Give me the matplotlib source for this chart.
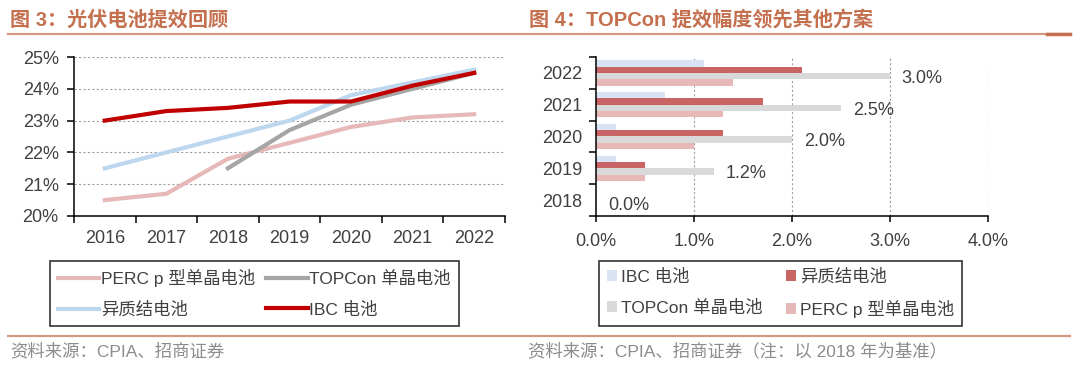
import matplotlib
matplotlib.use('Agg')
import matplotlib.pyplot as plt
from matplotlib.lines import Line2D
import numpy as np

plt.rcParams['font.family'] = ['Liberation Sans', 'Noto Sans CJK SC']

# ---- data ----
years = ['2016', '2017', '2018', '2019', '2020', '2021', '2022']
perc = [20.5, 20.7, 21.8, 22.3, 22.8, 23.1, 23.2]
topcon_years = ['2018', '2019', '2020', '2021', '2022']
topcon = [21.5, 22.7, 23.5, 24.0, 24.5]
hjt = [21.5, 22.0, 22.5, 23.0, 23.8, 24.2, 24.6]
ibc = [23.0, 23.3, 23.4, 23.6, 23.6, 24.1, 24.5]

bar_years = ['2018', '2019', '2020', '2021', '2022']
ibc_gain = [0.0, 0.2, 0.2, 0.7, 1.1]
hjt_gain = [0.0, 0.5, 1.3, 1.7, 2.1]
topcon_gain = [0.0, 1.2, 2.0, 2.5, 3.0]
perc_gain = [0.0, 0.5, 1.0, 1.3, 1.4]

title_left = '图 3：光伏电池提效回顾'
title_right = '图 4：TOPCon 提效幅度领先其他方案'
source_left = '资料来源：CPIA、招商证券'
source_right = '资料来源：CPIA、招商证券（注：以 2018 年为基准）'

W, H = 1080, 378
fig = plt.figure(figsize=(W / 100, H / 100), dpi=100)

def fx(px):
    return px / W

def fy(py):
    return 1 - py / H

head_col = '#C4704F'
line_col = '#D49A80'
tick_col = '#404040'

# ---- header / footer decorations ----
fig.add_artist(Line2D([fx(8), fx(1070)], [fy(34), fy(34)], color=line_col, lw=1.6))
fig.add_artist(Line2D([fx(1047), fx(1070)], [fy(34), fy(34)], color=head_col, lw=2.5))
fig.add_artist(Line2D([fx(8), fx(1070)], [fy(336), fy(336)], color=line_col, lw=1.6))
fig.text(fx(10), fy(20), title_left, fontsize=14.5, fontweight='bold', color=head_col, va='center')
fig.text(fx(529), fy(20), title_right, fontsize=14.5, fontweight='bold', color=head_col, va='center')
fig.text(fx(10), fy(351), source_left, fontsize=12.5, color='#8C8C8C', va='center')
fig.text(fx(528), fy(351), source_right, fontsize=12.5, color='#8C8C8C', va='center')

# ---- left: line chart ----
ax1 = fig.add_axes([fx(74), fy(216), fx(505 - 74), (216 - 57) / H])
xi = np.arange(len(years))
c_perc, c_topcon, c_hjt, c_ibc = '#E6B9B8', '#A5A5A5', '#BDD7EE', '#C00000'
l_perc, = ax1.plot(xi, perc, color=c_perc, lw=3, label='PERC p 型单晶电池')
l_hjt, = ax1.plot(xi, hjt, color=c_hjt, lw=3, label='异质结电池')
l_top, = ax1.plot([years.index(y) for y in topcon_years], topcon, color=c_topcon, lw=3, label='TOPCon 单晶电池')
l_ibc, = ax1.plot(xi, ibc, color=c_ibc, lw=3, label='IBC 电池')
ax1.set_xlim(-0.5, len(years) - 0.5)
ax1.set_ylim(20, 25)
ax1.set_yticks(np.arange(20, 26, 1))
ax1.set_yticklabels(['%d%%' % v for v in np.arange(20, 26, 1)])
ax1.set_xticks(np.arange(-0.5, len(years), 1))
ax1.set_xticklabels([''] * (len(years) + 1))
ax1.set_xticks(xi, minor=True)
ax1.set_xticklabels(years, minor=True)
ax1.tick_params(axis='x', which='major', length=5, width=1.1, direction='out')
ax1.tick_params(axis='x', which='minor', length=0, pad=10, labelsize=13, labelcolor=tick_col)
ax1.tick_params(axis='y', length=5, width=1.1, pad=6, labelsize=13, labelcolor=tick_col)
for y in range(21, 26):
    ax1.axhline(y, color='#A0A0A0', lw=0.8, ls=(0, (2, 2)), zorder=0)
for s in ['top', 'right']:
    ax1.spines[s].set_visible(False)
for s in ['left', 'bottom']:
    ax1.spines[s].set_linewidth(1.1)

leg1 = fig.legend(handles=[l_perc, l_hjt, l_top, l_ibc], ncol=2, loc='upper left',
                  bbox_to_anchor=(fx(50), fy(261)), fontsize=12.5, frameon=True, fancybox=False,
                  edgecolor='black', handlelength=2.4, handletextpad=0.1, columnspacing=0.6,
                  labelspacing=0.85, borderpad=0.45, borderaxespad=0)
leg1.get_frame().set_linewidth(1.2)
for t in leg1.get_texts():
    t.set_color(tick_col)

# ---- right: horizontal bars ----
ax2 = fig.add_axes([fx(596), fy(216), fx(988 - 596), (216 - 57) / H])
yi = np.arange(len(bar_years))
h = 0.2
c_ibc2, c_hjt2, c_top2, c_perc2 = '#DAE3F3', '#C96464', '#D9D9D9', '#E6B9B8'
b_ibc = ax2.barh(yi + 1.5 * h, ibc_gain, height=h, color=c_ibc2, label='IBC 电池')
b_hjt = ax2.barh(yi + 0.5 * h, hjt_gain, height=h, color=c_hjt2, label='异质结电池')
b_top = ax2.barh(yi - 0.5 * h, topcon_gain, height=h, color=c_top2, label='TOPCon 单晶电池')
b_perc = ax2.barh(yi - 1.5 * h, perc_gain, height=h, color=c_perc2, label='PERC p 型单晶电池')
for y, v in zip(yi, topcon_gain):
    ax2.text(v + 0.12, y - 0.5 * h - 0.07, '%.1f%%' % v, fontsize=13, color=tick_col, va='center', ha='left')
ax2.set_xlim(0, 4)
ax2.set_ylim(-0.5, len(bar_years) - 0.5)
ax2.set_xticks(np.arange(0, 5, 1))
ax2.set_xticklabels(['%.1f%%' % v for v in np.arange(0, 5, 1)])
ax2.set_yticks(np.arange(-0.5, len(bar_years), 1))
ax2.set_yticklabels([''] * (len(bar_years) + 1))
ax2.set_yticks(yi, minor=True)
ax2.set_yticklabels(bar_years, minor=True)
ax2.tick_params(axis='y', which='major', length=5, width=1.1, direction='out')
ax2.tick_params(axis='y', which='minor', length=0, pad=10, labelsize=13, labelcolor=tick_col)
ax2.tick_params(axis='x', length=4, width=1.1, pad=8, labelsize=13, labelcolor=tick_col)
for x in range(1, 5):
    ax2.axvline(x, color='#A0A0A0', lw=0.8, ls=(0, (2, 2)), zorder=0)
for s in ['top', 'right']:
    ax2.spines[s].set_visible(False)
for s in ['left', 'bottom']:
    ax2.spines[s].set_linewidth(1.1)

leg2 = fig.legend(handles=[b_ibc, b_top, b_hjt, b_perc], ncol=2, loc='upper left',
                  bbox_to_anchor=(fx(599), fy(261)), fontsize=12.5, frameon=True, fancybox=False,
                  edgecolor='black', handlelength=0.6, handleheight=0.6, handletextpad=0.2,
                  columnspacing=1.35, labelspacing=0.85, borderpad=0.45, borderaxespad=0)
leg2.get_frame().set_linewidth(1.2)
for t in leg2.get_texts():
    t.set_color(tick_col)

fig.savefig('out.png', dpi=100)
